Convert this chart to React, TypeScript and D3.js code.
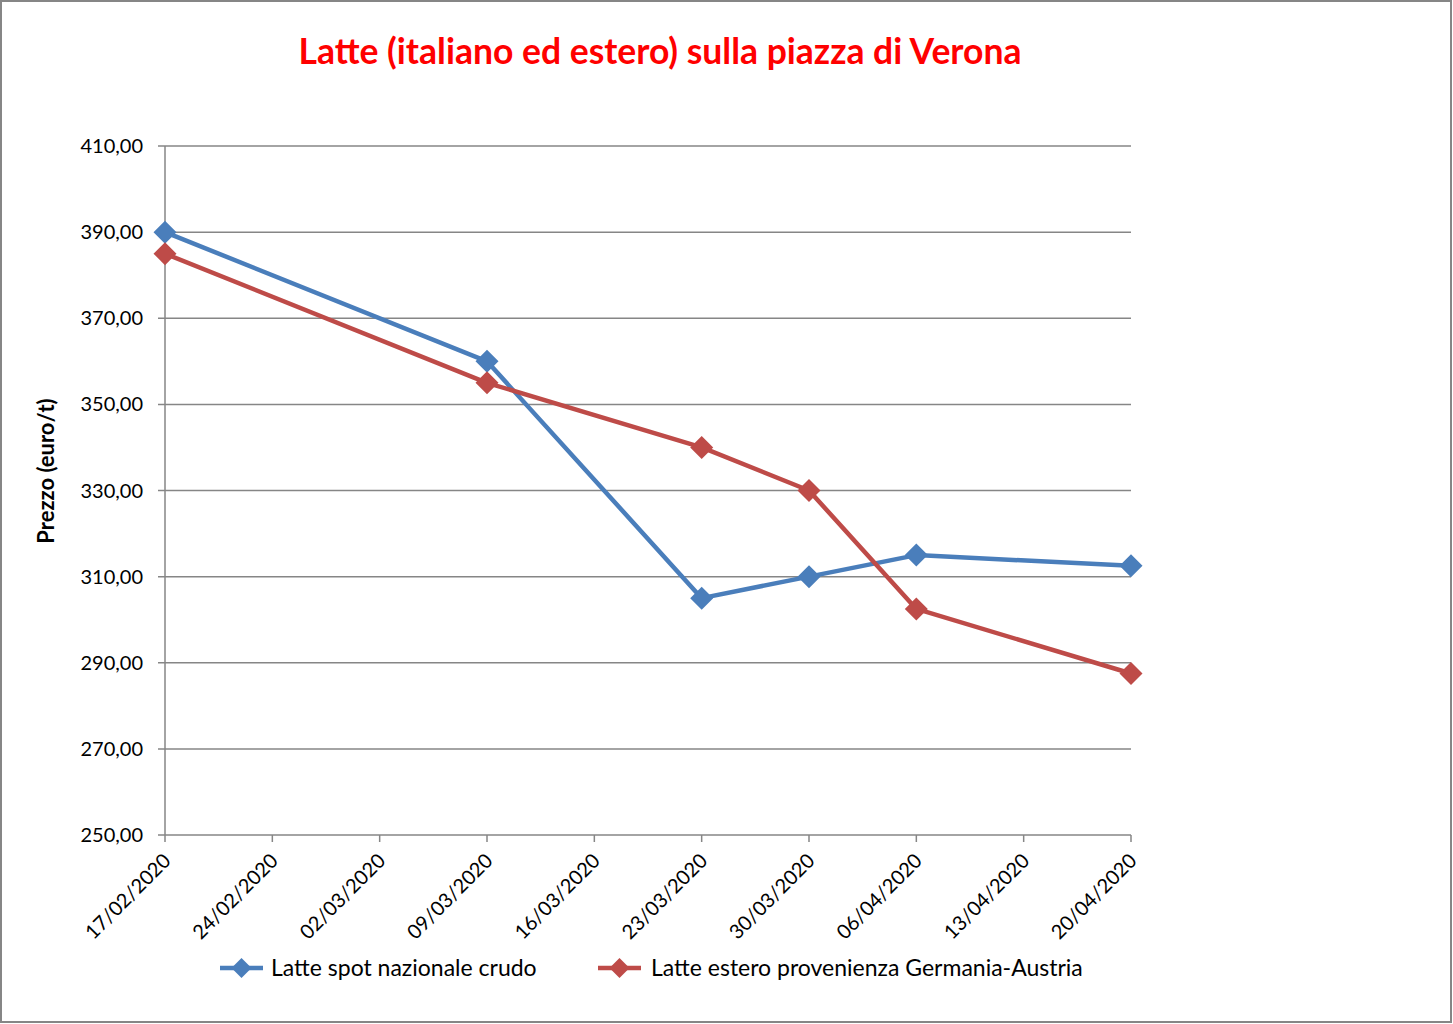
import React from "react";
import * as d3 from "d3";

const dates = ["2020-02-17", "2020-03-09", "2020-03-23", "2020-03-30", "2020-04-06", "2020-04-20"];
const spotNazionale = [390, 360, 305, 310, 315, 312.5];
const esteroGermAus = [385, 355, 340, 330, 302.5, 287.5];
const yTicks = [250, 270, 290, 310, 330, 350, 370, 390, 410];
const seriesNames = ["Latte spot nazionale crudo", "Latte estero provenienza Germania-Austria"];
const seriesColors = ["#4a7ebb", "#be4b48"];
const titleText = "Latte (italiano ed estero) sulla piazza di Verona";
const yTitle = "Prezzo (euro/t)";

const W = 1453, H = 1024;
const FONT = "Lato, Carlito, 'Open Sans', sans-serif";

export default function App() {
  const parse = d3.utcParse("%Y-%m-%d");
  const dts = dates.map((d) => parse(d) as Date);
  const x = d3.scaleUtc().domain([dts[0], dts[dts.length - 1]]).range([165, 1131]);
  const y = d3.scaleLinear().domain([250, 410]).range([835, 146]);
  const xTicks = d3.utcMonday.range(dts[0], d3.utcDay.offset(dts[dts.length - 1], 1));
  const fmtX = d3.utcFormat("%d/%m/%Y");
  const fmtY = (v: number) => v.toFixed(2).replace(".", ",");
  const line = d3.line<[Date, number]>().x((d) => x(d[0])).y((d) => y(d[1]));
  const series = [spotNazionale, esteroGermAus];
  const diamond = (cx: number, cy: number, r: number) => `M${cx},${cy - r}L${cx + r},${cy}L${cx},${cy + r}L${cx - r},${cy}Z`;

  const legendItems = [
    { x0: 220, tx: 271 },
    { x0: 598, tx: 651 },
  ];

  return (
    <>
      <style>{`body{margin:0}`}</style>
      <svg width={W} height={H} style={{ display: "block" }} fontFamily={FONT}>
        <rect x={0} y={0} width={W} height={H} fill="#fff" />
        <rect x={1} y={1} width={W - 3} height={H - 3} fill="none" stroke="#868686" strokeWidth={2} />
        <text x={660} y={64} textAnchor="middle" fill="#ff0000" fontWeight="bold" fontSize={35.5}>{titleText}</text>
        {yTicks.map((t) => (
          <g key={t}>
            <line x1={158} x2={1131} y1={y(t)} y2={y(t)} stroke="#868686" strokeWidth={1.5} />
            <text x={143} y={y(t) + 7} textAnchor="end" fontSize={20} fill="#000">{fmtY(t)}</text>
          </g>
        ))}
        <line x1={165} x2={165} y1={146} y2={835} stroke="#868686" strokeWidth={1.5} />
        {xTicks.map((d, i) => (
          <g key={i}>
            <line x1={x(d)} x2={x(d)} y1={835} y2={842} stroke="#868686" strokeWidth={1.5} />
            <text transform={`translate(${x(d) + 7},${862}) rotate(-45)`} textAnchor="end" fontSize={20} fill="#000">{fmtX(d)}</text>
          </g>
        ))}
        <text transform={`translate(54,471) rotate(-90)`} textAnchor="middle" fontWeight="bold" fontSize={22} fill="#000">{yTitle}</text>
        {series.map((s, si) => {
          const pts = s.map((v, i) => [dts[i], v] as [Date, number]);
          return (
            <g key={si}>
              <path d={line(pts) || ""} fill="none" stroke={seriesColors[si]} strokeWidth={4.5} strokeLinejoin="round" />
              {pts.map((p, i) => (
                <path key={i} d={diamond(x(p[0]), y(p[1]), 11.5)} fill={seriesColors[si]} />
              ))}
            </g>
          );
        })}
        {legendItems.map((l, i) => (
          <g key={i}>
            <line x1={l.x0} x2={l.x0 + 43} y1={968} y2={968} stroke={seriesColors[i]} strokeWidth={4.5} />
            <path d={diamond(l.x0 + 21.5, 968, 10)} fill={seriesColors[i]} />
            <text x={l.tx} y={976} fontSize={23} fill="#000">{seriesNames[i]}</text>
          </g>
        ))}
      </svg>
    </>
  );
}
